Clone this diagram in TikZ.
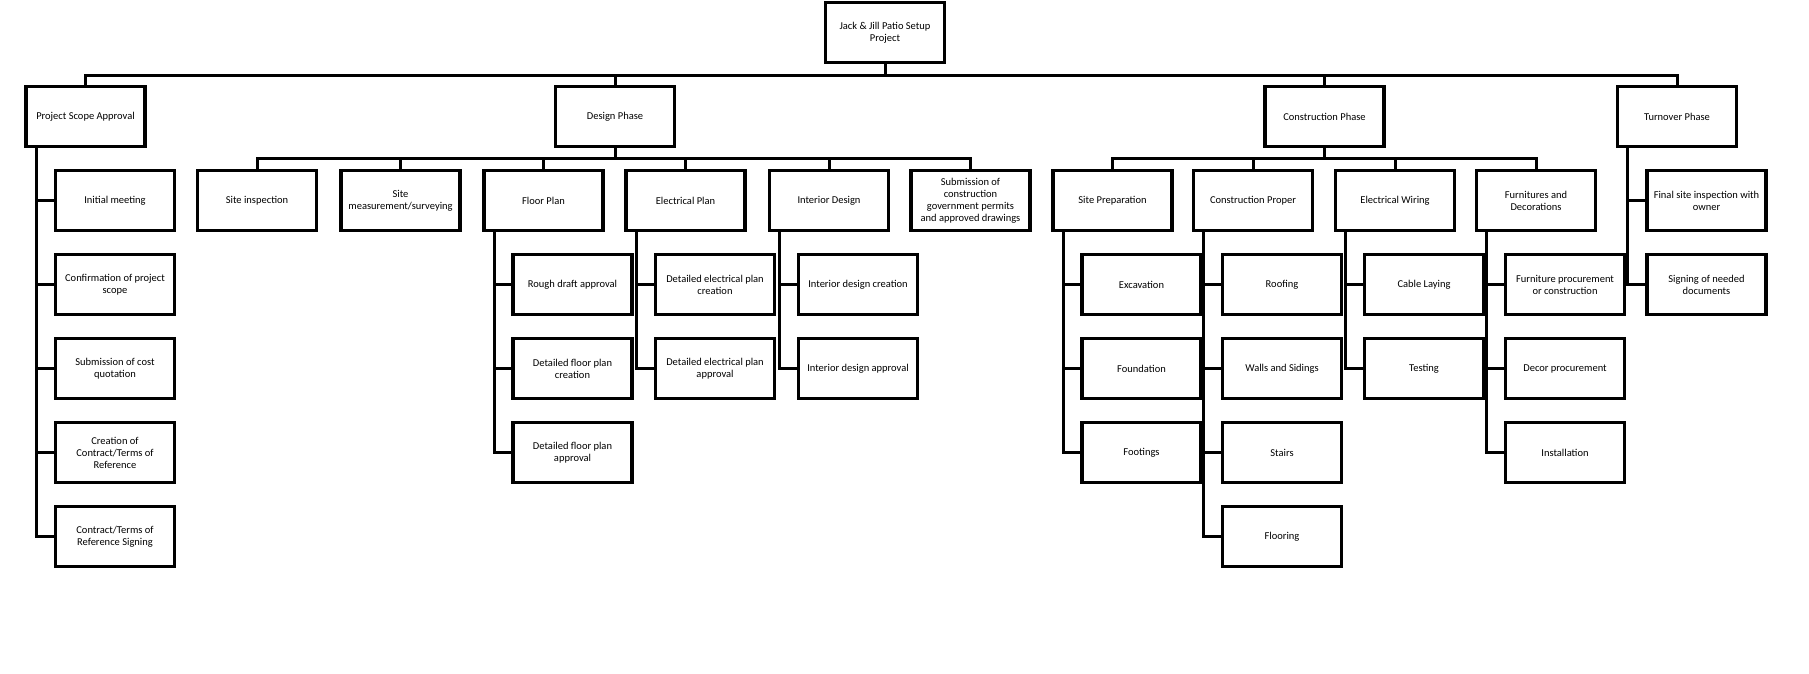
\documentclass[tikz,border=0pt]{standalone}
\usepackage{fontspec}
\setmainfont{Carlito}
\begin{document}
\begin{tikzpicture}[x=1pt,y=-1pt,
  box/.style={draw,line width=3.5pt,minimum width=119pt,minimum height=60pt,inner sep=0pt,align=center,font=\fontsize{10.5}{12}\selectfont},
  ln/.style={line width=3pt}]
\useasboundingbox (0,0) rectangle (1809,674);
\node[box] (root) at (885,32.5) {Jack \& Jill Patio Setup\\Project};
\node[box] (psa) at (85.5,116.5) {Project Scope Approval};
\node[box] (des) at (615,116.5) {Design Phase};
\node[box] (con) at (1324.5,116.5) {Construction Phase};
\node[box] (tur) at (1677,116.5) {Turnover Phase};
\foreach \n in {psa,des,con,tur} \draw[ln] (root.south) -- ++(0,11) -| (\n.north);
% PSA children
\node[box] (p1) at (115,200.5) {Initial meeting};
\node[box] (p2) at (115,284.5) {Confirmation of project\\scope};
\node[box] (p3) at (115,368.5) {Submission of cost\\quotation};
\node[box] (p4) at (115,452.5) {Creation of\\Contract/Terms of\\Reference};
\node[box] (p5) at (115,536.5) {Contract/Terms of\\Reference Signing};
\foreach \n in {p1,p2,p3,p4,p5} \draw[ln] ([xshift=12pt]psa.south west) |- (\n.west);
% Design children
\node[box] (d1) at (257,200.5) {Site inspection};
\node[box] (d2) at (400.5,200.5) {Site\\measurement/surveying};
\node[box] (d3) at (543.5,200.5) {Floor Plan};
\node[box] (d4) at (685.5,200.5) {Electrical Plan};
\node[box] (d5) at (829,200.5) {Interior Design};
\node[box] (d6) at (970.5,200.5) {Submission of\\construction\\government permits\\and approved drawings};
\foreach \n in {d1,d2,d3,d4,d5,d6} \draw[ln] (des.south) -- ++(0,10) -| (\n.north);
\node[box] (f1) at (572.5,284.5) {Rough draft approval};
\node[box] (f2) at (572.5,368.5) {Detailed floor plan\\creation};
\node[box] (f3) at (572.5,452.5) {Detailed floor plan\\approval};
\foreach \n in {f1,f2,f3} \draw[ln] ([xshift=12pt]d3.south west) |- (\n.west);
\node[box] (e1) at (715,284.5) {Detailed electrical plan\\creation};
\node[box] (e2) at (715,368.5) {Detailed electrical plan\\approval};
\foreach \n in {e1,e2} \draw[ln] ([xshift=12pt]d4.south west) |- (\n.west);
\node[box] (i1) at (858,284.5) {Interior design creation};
\node[box] (i2) at (858,368.5) {Interior design approval};
\foreach \n in {i1,i2} \draw[ln] ([xshift=12pt]d5.south west) |- (\n.west);
% Construction children
\node[box] (c1) at (1112.5,200.5) {Site Preparation};
\node[box] (c2) at (1253,200.5) {Construction Proper};
\node[box] (c3) at (1395,200.5) {Electrical Wiring};
\node[box] (c4) at (1536,200.5) {Furnitures and\\Decorations};
\foreach \n in {c1,c2,c3,c4} \draw[ln] (con.south) -- ++(0,10) -| (\n.north);
\node[box] (s1) at (1141.5,284.5) {Excavation};
\node[box] (s2) at (1141.5,368.5) {Foundation};
\node[box] (s3) at (1141.5,452.5) {Footings};
\foreach \n in {s1,s2,s3} \draw[ln] ([xshift=12pt]c1.south west) |- (\n.west);
\node[box] (r1) at (1282,284.5) {Roofing};
\node[box] (r2) at (1282,368.5) {Walls and Sidings};
\node[box] (r3) at (1282,452.5) {Stairs};
\node[box] (r4) at (1282,536.5) {Flooring};
\foreach \n in {r1,r2,r3,r4} \draw[ln] ([xshift=12pt]c2.south west) |- (\n.west);
\node[box] (w1) at (1424,284.5) {Cable Laying};
\node[box] (w2) at (1424,368.5) {Testing};
\foreach \n in {w1,w2} \draw[ln] ([xshift=12pt]c3.south west) |- (\n.west);
\node[box] (u1) at (1565,284.5) {Furniture procurement\\or construction};
\node[box] (u2) at (1565,368.5) {Decor procurement};
\node[box] (u3) at (1565,452.5) {Installation};
\foreach \n in {u1,u2,u3} \draw[ln] ([xshift=12pt]c4.south west) |- (\n.west);
% Turnover children
\node[box] (t1) at (1706.5,200.5) {Final site inspection with\\owner};
\node[box] (t2) at (1706.5,284.5) {Signing of needed\\documents};
\foreach \n in {t1,t2} \draw[ln] ([xshift=12pt]tur.south west) |- (\n.west);
\end{tikzpicture}
\end{document}
